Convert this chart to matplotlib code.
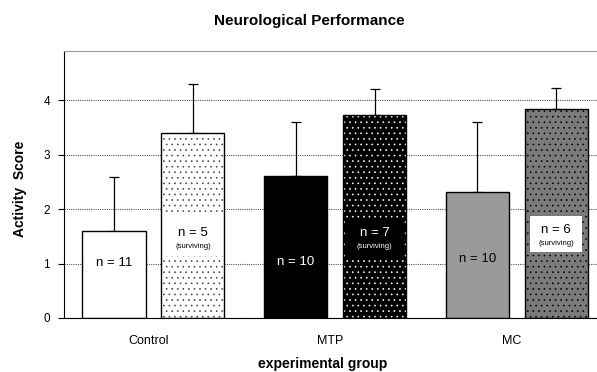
import matplotlib
matplotlib.use('Agg')
import matplotlib.pyplot as plt
from matplotlib.patches import Rectangle
import numpy as np

plt.rcParams['font.family'] = ['Liberation Sans', 'DejaVu Sans']
plt.rcParams['hatch.linewidth'] = 0.45

# Data
groups = ['Control', 'MTP', 'MC']
means_all = [1.60, 2.60, 2.31]          # first bar of each group
err_top_all = [2.59, 3.60, 3.60]
means_surv = [3.39, 3.72, 3.83]         # surviving animals
err_top_surv = [4.29, 4.20, 4.23]
n_all = [11, 10, 10]
n_surv = [5, 7, 6]

# style per bar (not data)
face_all = ['white', 'black', '#9a9a9a']
face_surv = ['white', 'black', '#7b7b7b']
dot_surv = ['#444444', 'white', 'black']
text_all = ['black', 'white', 'black']
text_y_all = [1.01, 1.03, 1.08]
box_surv = [('white', 1.14, 1.89, 0.01), ('black', 1.12, 1.83, 0.01), ('white', 1.21, 1.87, 0.03)]
text_surv = ['black', 'white', 'black']
text_y_surv = [1.56, 1.56, 1.61]

fig = plt.figure(figsize=(5.97, 3.72), dpi=100)
ax = fig.add_axes([64/597, 54/372, 533/597, 267/372])

x = np.arange(len(groups))
shift = 0.027
off = 0.217
w = 0.347
xa = x + shift - off
xs = x + shift + off

ax.set_axisbelow(True)
ax.yaxis.grid(True, linestyle=(0, (1, 1)), color='#555555', linewidth=0.8)

ax.bar(xa, means_all, w, color=face_all, edgecolor='black', linewidth=1.0, zorder=2)
ax.bar(xs, means_surv, w, color=face_surv, linewidth=0, zorder=2)
for i in range(3):
    ax.bar(xs[i], means_surv[i], w, facecolor='none', edgecolor=dot_surv[i],
           hatch='...', linewidth=0, zorder=2.1)
    fc, y0, y1, inset = box_surv[i]
    ax.add_patch(Rectangle((xs[i] - w/2 + inset, y0), w - 2*inset, y1 - y0,
                           facecolor=fc, edgecolor='none', zorder=2.2))
ax.bar(xs, means_surv, w, facecolor='none', edgecolor='black', linewidth=1.0, zorder=2.3)

ax.errorbar(xa, means_all, yerr=[np.zeros(3), np.array(err_top_all) - means_all],
            fmt='none', ecolor='black', elinewidth=0.9, capsize=3.3, capthick=0.9, zorder=1.5)
ax.errorbar(xs, means_surv, yerr=[np.zeros(3), np.array(err_top_surv) - means_surv],
            fmt='none', ecolor='black', elinewidth=0.9, capsize=3.3, capthick=0.9, zorder=1.5)

for i in range(3):
    ax.text(xa[i], text_y_all[i], f'n = {n_all[i]}', ha='center', va='center',
            fontsize=9.5, color=text_all[i], zorder=3)
    ax.text(xs[i], text_y_surv[i], f'n = {n_surv[i]}', ha='center', va='center',
            fontsize=9.5, color=text_surv[i], zorder=3)
    ax.text(xs[i], text_y_surv[i] - 0.25, '(surviving)', ha='center', va='center',
            fontsize=5.5, color=text_surv[i], zorder=3)

ax.set_xlim(-0.465, 2.468)
ax.set_ylim(0, 4.9)
ax.set_yticks([0, 1, 2, 3, 4])
ax.set_xticks(x)
ax.set_xticklabels(groups)
ax.tick_params(axis='x', length=0, pad=12, labelsize=9)
ax.tick_params(axis='y', direction='out', length=4, width=0.8, pad=6, labelsize=8.5)

ax.spines['right'].set_visible(False)
ax.spines['top'].set_color('#999999')
ax.spines['left'].set_color('black')
ax.spines['bottom'].set_color('black')

fig.text(309/597, 1 - 20.7/372, 'Neurological Performance', ha='center', va='center',
         fontsize=11, fontweight='bold')
fig.text(323/597, 1 - 364/372, 'experimental group', ha='center', va='center',
         fontsize=10, fontweight='bold')
fig.text(20/597, 1 - 189/372, 'Activity  Score', ha='center', va='center',
         rotation=90, fontsize=10, fontweight='bold')

fig.savefig('out.png', dpi=100)
